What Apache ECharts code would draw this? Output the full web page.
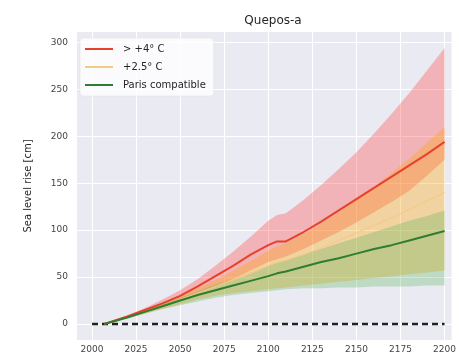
<!DOCTYPE html>
<html>
<head>
<meta charset="utf-8">
<script src="https://cdn.jsdelivr.net/npm/echarts@6/dist/echarts.min.js"></script>
<style>
  html, body { margin: 0; padding: 0; background: #fff; }
  #chart { width: 459px; height: 355px; }
</style>
</head>
<body>
<div id="chart"></div>
<script>
const years = [2007, 2020, 2030, 2040, 2050, 2060, 2070, 2080, 2090, 2100, 2105, 2110, 2120, 2130, 2140, 2150, 2160, 2170, 2180, 2190, 2200];

const hotUpper = [0, 9, 17, 26, 36, 48, 62, 77, 93, 110, 116, 118, 132, 148, 165, 183, 203, 224, 246, 270, 294];
const hotMedian = [0, 8, 15, 22, 30, 40, 51, 62, 74, 84, 88, 88, 98, 109, 121, 133, 145, 157, 169, 181, 194];
const hotLower = [0, 7, 13, 19, 25, 32, 40, 48, 57, 66, 69, 72, 80, 89, 98, 108, 119, 130, 142, 158, 175];

const midUpper = [0, 8, 15, 22, 30, 38, 47, 57, 67, 78, 83, 86, 96, 107, 119, 132, 146, 161, 176, 193, 210];
const midMedian = [0, 7, 13, 19, 26, 33, 40, 47, 54, 62, 66, 68, 74, 81, 89, 97, 105, 113, 122, 131, 140];
const midLower = [0, 6, 11, 16, 21, 26, 30, 33, 35, 37, 38, 39, 41, 43, 45, 47, 49, 51, 53, 55, 57];

const parisUpper = [0, 8, 14, 21, 28, 35, 42, 48, 55, 62, 65, 68, 74, 80, 86, 92, 98, 104, 110, 115, 121];
const parisMedian = [0, 7, 13, 19, 25, 31, 36, 41, 46, 51, 54, 56, 61, 66, 70, 75, 80, 84, 89, 94, 99];
const parisLower = [0, 6, 11, 16, 20, 24, 28, 31, 33, 35, 36, 37, 38, 38, 39, 39, 40, 40, 40, 41, 41];

const baselineYears = [2000, 2200];
const baselineValues = [0, 0];

const xTicks = [2000, 2025, 2050, 2075, 2100, 2125, 2150, 2175, 2200];
const yTicks = [0, 50, 100, 150, 200, 250, 300];

const names = ["> +4° C", "+2.5° C", "Paris compatible"];

const pairs = (xs, ys) => xs.map((x, i) => [x, ys[i]]);

// filled band between lower and upper, drawn as one polygon through the axis scales
const band = (lower, upper, color, opacity) => ({
  type: "custom",
  data: [[years[0], lower[0]]],
  silent: true,
  z: 1,
  renderItem: (params, api) => {
    const top = years.map((x, i) => api.coord([x, upper[i]]));
    const bottom = years.map((x, i) => api.coord([x, lower[i]])).reverse();
    return {
      type: "polygon",
      shape: { points: top.concat(bottom) },
      style: { fill: color, opacity: opacity },
    };
  },
});

const medianLine = (name, values, color, width) => ({
  name: name,
  type: "line",
  data: pairs(years, values),
  symbol: "none",
  lineStyle: { color: color, width: width },
  itemStyle: { color: color },
  z: 3,
});

const chart = echarts.init(document.getElementById("chart"));

const option = {
  animation: false,
  textStyle: { fontFamily: "DejaVu Sans" },
  title: {
    text: "Quepos-a",
    left: 268,
    top: 10,
    textAlign: "center",
    textStyle: { fontSize: 12, fontWeight: "normal", color: "#262626" },
  },
  legend: {
    data: names,
    orient: "vertical",
    left: 80,
    top: 38,
    icon: "rect",
    itemWidth: 28,
    itemHeight: 2,
    itemGap: 8,
    padding: [6, 8, 6, 5],
    backgroundColor: "rgba(255,255,255,0.8)",
    borderColor: "#ddd",
    borderWidth: 0.5,
    borderRadius: 3,
    textStyle: { fontSize: 10, color: "#262626", padding: [0, 0, 0, 5] },
  },
  grid: {
    left: 77,
    right: 7,
    top: 32,
    bottom: 15,
    show: true,
    backgroundColor: "#EAEAF2",
    borderWidth: 0,
  },
  xAxis: {
    type: "value",
    min: 1991.5,
    max: 2204,
    axisLine: { show: false },
    axisTick: { show: false, customValues: xTicks },
    axisLabel: {
      customValues: xTicks,
      formatter: (v) => String(v),
      fontSize: 9,
      color: "#444",
      margin: 5,
    },
    splitLine: { show: true, lineStyle: { color: "#fff", width: 1 } },
  },
  yAxis: {
    type: "value",
    min: -17,
    max: 311,
    name: "Sea level rise [cm]",
    nameLocation: "middle",
    nameGap: 44,
    nameTextStyle: { fontSize: 10, color: "#262626" },
    axisLine: { show: false },
    axisTick: { show: false, customValues: yTicks },
    axisLabel: { customValues: yTicks, fontSize: 9, color: "#444", margin: 9 },
    splitLine: { show: true, lineStyle: { color: "#fff", width: 1 } },
  },
  series: [
    band(hotLower, hotUpper, "#ff4d4d", 0.35),
    band(midLower, midUpper, "#ffa500", 0.33),
    band(parisLower, parisUpper, "#4caf50", 0.28),
    {
      type: "line",
      data: pairs(baselineYears, baselineValues),
      symbol: "none",
      lineStyle: { color: "#222", width: 2.5, type: [6, 4] },
      silent: true,
      z: 2,
    },
    medianLine(names[1], midMedian, "#f5c987", 1.2),
    medianLine(names[0], hotMedian, "#e8412a", 2),
    medianLine(names[2], parisMedian, "#2e7d32", 2),
  ],
};

chart.setOption(option);
</script>
</body>
</html>
